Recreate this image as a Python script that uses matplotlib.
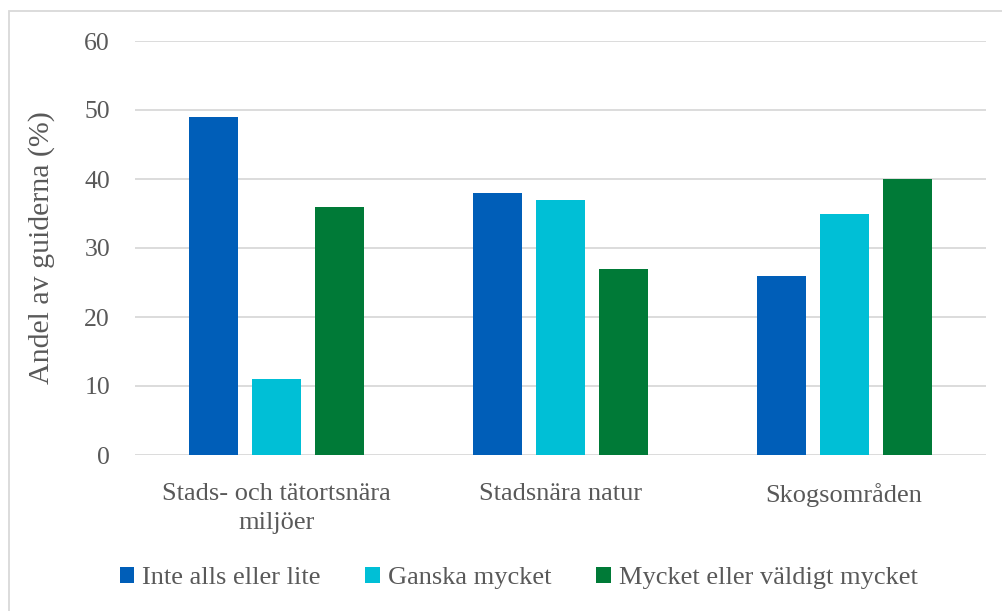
import matplotlib
matplotlib.use("Agg")
import matplotlib.pyplot as plt
import numpy as np
from matplotlib.patches import Rectangle

categories = ["Stads- och tätortsnära\nmiljöer", "Stadsnära natur", "Skogsområden"]
series_names = ["Inte alls eller lite", "Ganska mycket", "Mycket eller väldigt mycket"]
inte_alls = [49, 38, 26]
ganska = [11, 37, 35]
mycket = [36, 27, 40]
yticks = [0, 10, 20, 30, 40, 50, 60]
ylabel = "Andel av guiderna (%)"

colors = ["#005EB8", "#00BFD6", "#007A37"]
text_col = "#595959"
grid_col = "#D9D9D9"

plt.rcParams['font.family'] = ['Liberation Serif', 'DejaVu Serif']

W, H = 1003, 611
fig = plt.figure(figsize=(W/100, H/100), dpi=100)
ax = fig.add_axes([135/W, 1-455/H, (986-135)/W, (455-41)/H])

x = np.arange(len(categories))
bw = 0.173
step = 0.222
for i, (vals, name) in enumerate(zip([inte_alls, ganska, mycket], series_names)):
    ax.bar(x + (i-1)*step, vals, width=bw, color=colors[i], label=name, zorder=3)

ax.set_xlim(-0.5, 2.5)
ax.set_ylim(0, 60)
ax.set_yticks(yticks)
ax.set_xticks(x)
ax.set_xticklabels(categories, fontsize=19, color=text_col, linespacing=1.45)
ax.tick_params(axis='y', labelsize=18.5, colors=text_col, length=0, pad=18)
ax.tick_params(axis='x', length=0, pad=20)
ax.yaxis.grid(True, color=grid_col, linewidth=1.3, zorder=0)
for s in ax.spines.values():
    s.set_visible(False)
ax.set_ylabel(ylabel, fontsize=21.5, color=text_col, labelpad=21)

leg = fig.legend(loc='center', bbox_to_anchor=(0.517, 1-578/H), ncol=3, frameon=False,
                 fontsize=19, handlelength=0.55, handleheight=0.55, handletextpad=0.3,
                 columnspacing=1.7)
for t in leg.get_texts():
    t.set_color(text_col)

fig.patches.append(Rectangle((9/W, -0.05), 1.1, 1-11/H+0.05, transform=fig.transFigure,
                             fill=False, edgecolor="#D9D9D9", linewidth=1.3))

fig.savefig("out.png", dpi=100)
